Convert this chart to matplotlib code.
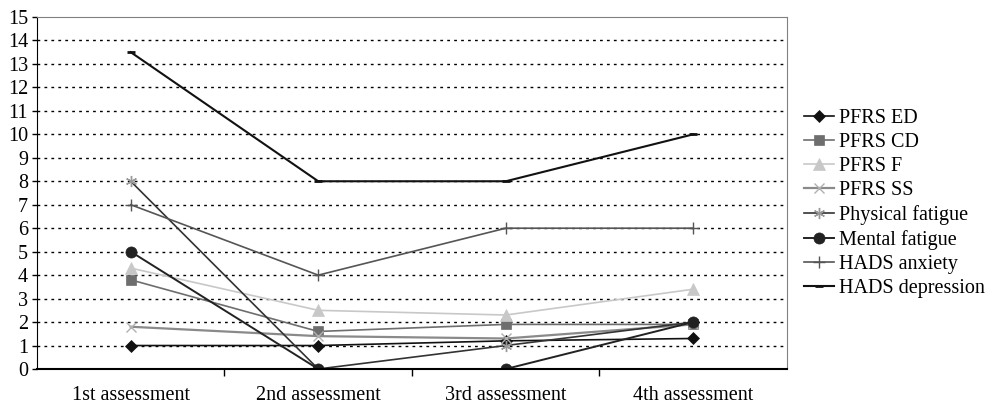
"""Scores across four assessments (PFRS, fatigue, HADS)."""

import matplotlib.pyplot as plt

plt.rcParams["font.family"] = ["Liberation Serif", "DejaVu Serif"]

assessments = ["1st assessment", "2nd assessment", "3rd assessment", "4th assessment"]

pfrs_ed = [1.0, 1.0, 1.2, 1.3]
pfrs_cd = [3.8, 1.6, 1.9, 1.9]
pfrs_f = [4.3, 2.5, 2.3, 3.4]
pfrs_ss = [1.8, 1.4, 1.3, 1.9]
physical_fatigue = [8, 0, 1, 2]
mental_fatigue = [5, 0, 0, 2]
hads_anxiety = [7, 4, 6, 6]
hads_depression = [13.5, 8, 8, 10]

# label, values, line colour, marker, marker colour, size, line width
series = [
    ("PFRS ED", pfrs_ed, "#111111", "D", "#111111", 6, 1.2),
    ("PFRS CD", pfrs_cd, "#6e6e6e", "s", "#6e6e6e", 7.5, 1.2),
    ("PFRS F", pfrs_f, "#c8c8c8", "^", "#c8c8c8", 8, 1.2),
    ("PFRS SS", pfrs_ss, "#8a8a8a", "x", "#b0b0b0", 6.5, 1.6),
    ("Physical fatigue", physical_fatigue, "#333333", (6, 2, 0), "#999999", 8, 1.2),
    ("Mental fatigue", mental_fatigue, "#222222", "o", "#222222", 8, 1.4),
    ("HADS anxiety", hads_anxiety, "#555555", "+", "#555555", 9, 1.2),
    ("HADS depression", hads_depression, "#111111", "_", "#111111", 6, 1.5),
]

fig = plt.figure(figsize=(9.95, 4.04), dpi=100)
ax = fig.add_axes([37 / 995, 35 / 404, 750 / 995, 352 / 404])

x = list(range(len(assessments)))
for label, values, color, marker, mcolor, size, lw in series:
    thin = marker in ("x", "+", "_") or isinstance(marker, tuple)
    mew = (2.0 if marker == "_" else 1.0) if thin else 0.5
    ax.plot(x, values, color=color, marker=marker, markersize=size,
            linewidth=lw, markeredgewidth=mew, markeredgecolor=mcolor,
            markerfacecolor=mcolor, label=label)

ax.set_xlim(-0.5, 3.5)
ax.set_ylim(0, 15)
ax.set_yticks(range(0, 16))
ax.set_xticks([0.5, 1.5, 2.5])
ax.set_xticklabels([])
ax.set_xticks(x, minor=True)
ax.set_xticklabels(assessments, minor=True)
ax.tick_params(axis="x", which="minor", length=0, pad=12, labelsize=14.5)
ax.tick_params(axis="x", which="major", length=5, direction="out", width=1)
ax.tick_params(axis="y", length=3.5, direction="out", width=1, labelsize=14.5, pad=3)

for v in range(1, 15):
    ax.axhline(v, color="black", linestyle=(0, (2, 3)), linewidth=1, zorder=0)

ax.spines["left"].set_color("black")
ax.spines["bottom"].set_color("black")
ax.spines["bottom"].set_linewidth(1.5)
ax.spines["top"].set_color("#808080")
ax.spines["right"].set_color("#808080")

ax.legend(loc="center left", bbox_to_anchor=(1.0, 0.47), frameon=False,
          fontsize=14.5, handlelength=1.5, handletextpad=0.25,
          labelspacing=0.25, borderaxespad=0.45)

fig.savefig("out.png", dpi=100)
